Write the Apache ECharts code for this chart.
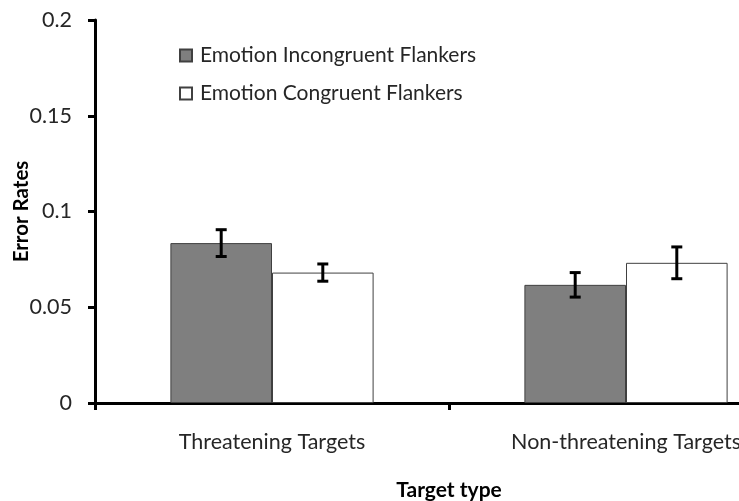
<!DOCTYPE html>
<html>
<head>
<meta charset="utf-8">
<script src="https://cdn.jsdelivr.net/npm/echarts@6/dist/echarts.min.js"></script>
<style>
html,body{margin:0;padding:0;background:#fff;}
#chart{width:739px;height:501px;}
</style>
</head>
<body>
<div id="chart"></div>
<script>
var categories = ['Threatening Targets', 'Non-threatening Targets'];
var seriesNames = ['Emotion Incongruent Flankers', 'Emotion Congruent Flankers'];
var incongruent = [0.0835, 0.0617];
var congruent = [0.0681, 0.0732];
var incongruentErr = [0.0070, 0.0064];
var congruentErr = [0.0045, 0.0083];
var yTicks = [0, 0.05, 0.1, 0.15, 0.2];

var FONT = 'Lato';
var FS = 21.5;
var BAR_FRAC = 0.287;

function errData(vals, errs) {
  return vals.map(function (v, i) { return [i, v, errs[i]]; });
}
function errRender(side) {
  return function (params, api) {
    var i = api.value(0), v = api.value(1), e = api.value(2);
    var catW = api.size([1, 0])[0];
    var bw = catW * BAR_FRAC;
    var c = api.coord([i, v]);
    var x = c[0] + side * bw / 2;
    var top = api.coord([i, v + e])[1];
    var bot = api.coord([i, v - e])[1];
    var cap = 5.5;
    var st = { stroke: '#000', lineWidth: 3 };
    return {
      type: 'group',
      children: [
        { type: 'line', shape: { x1: x, y1: top, x2: x, y2: bot }, style: st },
        { type: 'line', shape: { x1: x - cap, y1: top, x2: x + cap, y2: top }, style: st },
        { type: 'line', shape: { x1: x - cap, y1: bot, x2: x + cap, y2: bot }, style: st }
      ]
    };
  };
}

var chart = echarts.init(document.getElementById('chart'), null, { renderer: 'canvas' });
chart.setOption({
  animation: false,
  backgroundColor: '#fff',
  textStyle: { fontFamily: FONT },
  grid: { left: 95, top: 20, width: 708, height: 383, containLabel: false, outerBoundsMode: 'none' },
  legend: {
    data: seriesNames,
    orient: 'vertical',
    left: 174,
    top: 40,
    itemWidth: 12,
    itemHeight: 12,
    itemGap: 17,
    icon: 'rect',
    textStyle: { fontFamily: FONT, fontSize: 21, color: '#262626', padding: [0, 0, 0, 3] }
  },
  xAxis: {
    type: 'category',
    data: categories,
    name: 'Target type',
    nameLocation: 'middle',
    nameGap: 77,
    nameMoveOverlap: false,
    nameTextStyle: { fontFamily: FONT, fontSize: 21, fontWeight: 'bold', color: '#000' },
    axisLine: { lineStyle: { color: '#000', width: 3 } },
    axisTick: { show: true, length: 7, lineStyle: { color: '#000', width: 3 } },
    axisLabel: { margin: 28, fontFamily: FONT, fontSize: FS, color: '#262626', hideOverlap: false }
  },
  yAxis: {
    type: 'value',
    min: 0,
    max: 0.2,
    interval: 0.05,
    name: 'Error Rates',
    nameLocation: 'middle',
    nameGap: 63,
    nameMoveOverlap: false,
    nameRotate: 90,
    nameTextStyle: { fontFamily: FONT, fontSize: 20.5, fontWeight: 'bold', color: '#000' },
    splitLine: { show: false },
    axisLine: { show: true, lineStyle: { color: '#000', width: 3 } },
    axisTick: { show: true, length: 7, lineStyle: { color: '#000', width: 3 } },
    axisLabel: {
      margin: 23, fontFamily: FONT, fontSize: FS, color: '#262626',
      formatter: function (v) {
        for (var k = 0; k < yTicks.length; k++) if (Math.abs(yTicks[k] - v) < 1e-9) return String(yTicks[k]);
        return '';
      }
    }
  },
  series: [
    {
      name: seriesNames[0], type: 'bar', data: incongruent,
      barWidth: (BAR_FRAC * 100) + '%', barGap: '0%',
      itemStyle: { color: '#7f7f7f', borderColor: '#404040', borderWidth: 1 }
    },
    {
      name: seriesNames[1], type: 'bar', data: congruent,
      barWidth: (BAR_FRAC * 100) + '%', barGap: '0%',
      itemStyle: { color: '#ffffff', borderColor: '#404040', borderWidth: 1 }
    },
    {
      type: 'custom', renderItem: errRender(-1), data: errData(incongruent, incongruentErr),
      encode: { x: 0, y: 1 }, z: 10, silent: true
    },
    {
      type: 'custom', renderItem: errRender(1), data: errData(congruent, congruentErr),
      encode: { x: 0, y: 1 }, z: 10, silent: true
    }
  ]
});
</script>
</body>
</html>
